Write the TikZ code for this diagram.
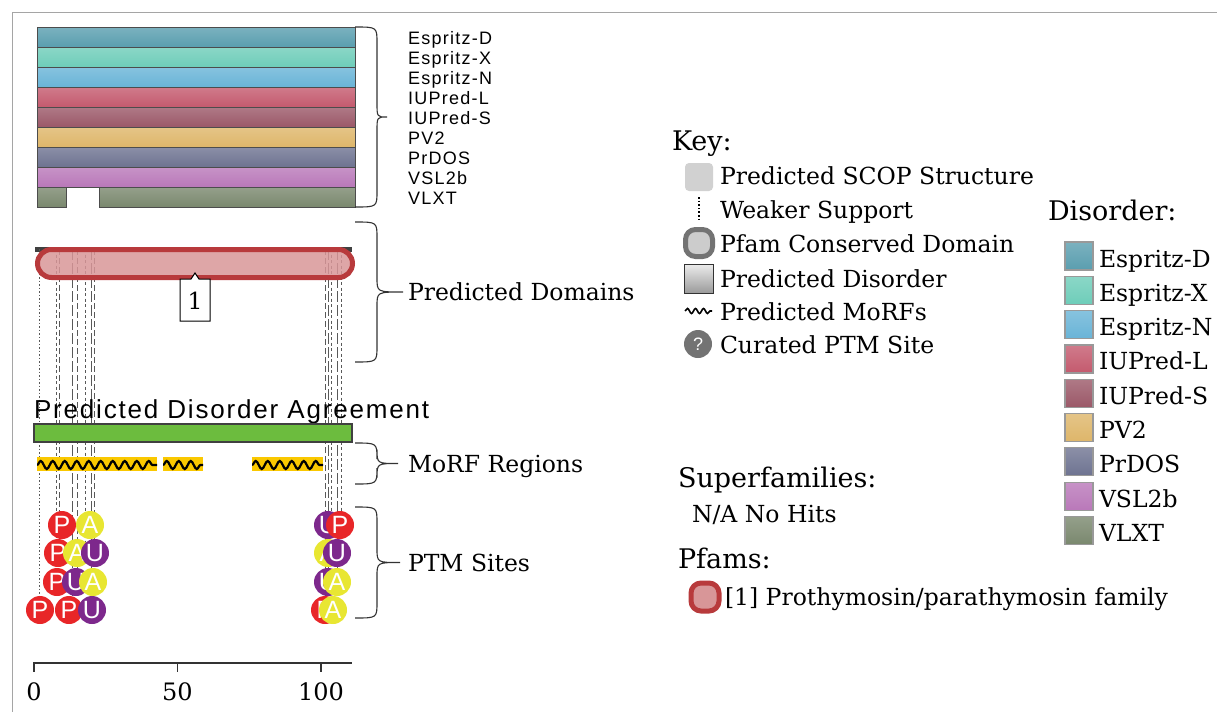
\documentclass[tikz,border=0pt]{standalone}
\usepackage{fontspec}
\setmainfont{DejaVu Serif}
\setsansfont{Liberation Sans}[LetterSpace=7]
\usepackage{tikz}
\usetikzlibrary{decorations.pathmorphing,positioning}
\definecolor{espD}      {RGB}{ 90,158,175}
\definecolor{espX}      {RGB}{110,205,185}
\definecolor{espN}      {RGB}{105,180,215}
\definecolor{iupL}      {RGB}{196, 90,110}
\definecolor{iupS}      {RGB}{155, 88,104}
\definecolor{pvtwo}     {RGB}{222,182,106}
\definecolor{prdos}     {RGB}{110,115,145}
\definecolor{vslb}      {RGB}{185,120,185}
\definecolor{vlxt}      {RGB}{122,136,110}
\definecolor{domred}    {RGB}{184, 58, 60}
\definecolor{dompink}   {RGB}{216,150,152}
\definecolor{agreegreen}{RGB}{108,188, 62}
\definecolor{morfyellow}{RGB}{250,200,  0}
\definecolor{ptmred}    {RGB}{232, 38, 40}
\definecolor{ptmyellow} {RGB}{232,230, 50}
\definecolor{ptmpurple} {RGB}{125, 40,140}
\definecolor{framegray} {RGB}{165,165,165}

% curly brace to the right of the tracks: top y, bottom y, tip x
\newcommand{\sidebrace}[3]{%
  \pgfmathsetmacro{\bmid}{(#1+#2)/2}%
  \draw[bracepen] (355,#1) .. controls (377,#1) .. (377,{#1+16})
    -- (377,{\bmid-14}) .. controls (377,\bmid) .. (#3,\bmid)
    .. controls (377,\bmid) .. (377,{\bmid+14})
    -- (377,{#2-16}) .. controls (377,#2) .. (355,#2);}

\begin{document}
\begin{tikzpicture}[
  x=1pt, y=-1pt,
  every node/.style={inner sep=0pt, outer sep=0pt},
  lbl/.style={font=\fontsize{23.5}{28}\selectfont, anchor=base west},
  hdr/.style={font=\fontsize{27}{32}\selectfont, anchor=base west},
  tracklbl/.style={font=\sffamily\fontsize{18}{20}\selectfont, anchor=base west},
  track/.style={draw=black!70, line width=0.8pt},
  swatch/.style={draw=black!40, line width=1.2pt, minimum size=28pt},
  ptm/.style={circle, minimum size=28pt, text=white, font=\sffamily\fontsize{25}{25}\selectfont},
  vline/.style={black!65, line width=0.8pt},
  dsa/.style={dash pattern=on 1.5pt off 2pt},
  dsb/.style={dash pattern=on 3pt off 2.5pt},
  dsc/.style={dash pattern=on 6pt off 3pt},
  dsd/.style={dash pattern=on 11pt off 3pt},
  bracepen/.style={black!80, line width=1.1pt},
  morf/.style={black, line width=2.2pt, decorate, decoration={snake, segment length=12pt, amplitude=4pt}}
]
  \useasboundingbox (0,0) rectangle (1217,712);
  \draw[framegray, line width=1.5pt] (1217,12.5) -- (12.5,12.5) -- (12.5,712);

  % Disorder tracks
  \foreach \c [count=\i from 0] in {espD,espX,espN,iupL,iupS,pvtwo,prdos,vslb}
    \draw[track, top color=\c!80!white, bottom color=\c] (37,{27+20*\i}) rectangle (355,{47+20*\i});
  \draw[track, top color=vlxt!80!white, bottom color=vlxt] (37,187) rectangle (66,207);
  \draw[track, top color=vlxt!80!white, bottom color=vlxt] (99,187) rectangle (355,207);
  \foreach \t [count=\i from 0] in {Espritz-D,Espritz-X,Espritz-N,IUPred-L,IUPred-S,PV2,PrDOS,VSL2b,VLXT}
    \node[tracklbl] (trk\i) at (408,{44+20*\i}) {\t};
  \sidebrace{27}{207}{387}

  % Domains
  \fill[black!75] (35,247) rectangle (352,252);
  \foreach \lx/\ly/\ds in {39/598/dsa, 56/572/dsb, 59/540/dsc, 72/600/dsd, 77/575/dsc,
                           85/560/dsb, 91/600/dsd, 94/540/dsc,
                           325/600/dsc, 328/575/dsd, 331/520/dsb, 337/570/dsd, 341/520/dsb}
    \draw[vline,\ds] (\lx,249) -- (\lx,\ly);
  \draw[line width=5pt, draw=domred, fill=dompink, fill opacity=0.85, rounded corners=14pt]
    (37.5,249.5) rectangle (352.5,277.5);
  \draw[fill=white, line width=1pt] (180,279) -- (191,279) -- (195,273) -- (199,279)
    -- (210,279) -- (210,321) -- (180,321) -- cycle;
  \node[font=\fontsize{23.5}{28}\selectfont] (dom1) at (195,301) {1};
  \sidebrace{222}{362}{403}
  \node[lbl] (domlbl) at (408,300) {Predicted Domains};

  % Agreement
  \node[font=\sffamily\fontsize{26}{28}\selectfont, anchor=base west] (agree) at (34,418) {Predicted Disorder Agreement};
  \draw[line width=1.5pt, draw=black!75, fill=agreegreen] (34,424) rectangle (352,442);

  % MoRFs
  \foreach \ma/\mb in {37/157, 163/203, 252/323} {
    \fill[morfyellow] (\ma,457) rectangle (\mb,471);
    \begin{scope}
      \clip (\ma,455) rectangle (\mb,473);
      \draw[morf] (\ma,465) -- (\mb,465);
    \end{scope}
  }
  \sidebrace{443}{484}{398}
  \node[lbl] (morflbl) at (408,472) {MoRF Regions};

  % PTM sites
  \foreach \px/\py/\pc/\pl [count=\k] in {
      62/525/ptmred/P, 90/525/ptmyellow/A, 328/525/ptmpurple/U, 340/525/ptmred/P,
      58/553/ptmred/P, 77/553/ptmyellow/A, 95/553/ptmpurple/U, 328/553/ptmyellow/A, 337/553/ptmpurple/U,
      57/582/ptmred/P, 76/582/ptmpurple/U, 93/582/ptmyellow/A, 328/582/ptmpurple/U, 337/582/ptmyellow/A,
      40/610/ptmred/P, 69/610/ptmred/P, 92/610/ptmpurple/U, 325/610/ptmred/P, 333/610/ptmyellow/A}
    \node[ptm, fill=\pc] (ptm\k) at (\px,\py) {\pl};
  \sidebrace{507}{618}{400}
  \node[lbl] (ptmlbl) at (408,571) {PTM Sites};

  % Axis
  \draw[black!80, line width=2pt] (33,663) -- (352,663);
  \foreach \v in {0,50,100} {
    \draw[black!80, line width=1.5pt] ({34+2.87*\v},663) -- ({34+2.87*\v},672);
    \node[font=\fontsize{24}{28}\selectfont] (tk\v) at ({34+2.87*\v},692) {\v};
  }

  % Key
  \node[hdr] (keyhd) at (672,150) {Key:};
  \node[fill=black!18, rounded corners=4pt, minimum size=28pt] (kscop) at (699,177) {};
  \node[lbl] (kscoplbl) at (720,184) {Predicted SCOP Structure};
  \draw[black, line width=1.6pt, dash pattern=on 1.6pt off 2pt] (699,197) -- (699,221);
  \node[lbl] (kweaklbl) at (720,218) {Weaker Support};
  \node[fill=black!20, draw=black!55, line width=5pt, rounded corners=10pt, minimum size=27pt] (kpfam) at (699,243) {};
  \node[lbl] (kpfamlbl) at (720,252) {Pfam Conserved Domain};
  \node[draw=black!80, line width=1.3pt, top color=black!8, bottom color=black!40, minimum size=29pt] (kdis) at (699,279) {};
  \node[lbl] (kdislbl) at (720,287) {Predicted Disorder};
  \draw[morf, line width=1.6pt, decoration={snake, segment length=8pt, amplitude=2.5pt}] (685,311) -- (712,311);
  \node[lbl] (kmorflbl) at (720,320) {Predicted MoRFs};
  \node[circle, fill=black!55, minimum size=28pt, text=white, font=\sffamily\fontsize{18}{18}\selectfont] (kptm) at (698,344) {?};
  \node[lbl] (kptmlbl) at (720,353) {Curated PTM Site};

  % Disorder legend
  \node[hdr] (dishd) at (1048,220) {Disorder:};
  \foreach \c/\t [count=\i from 0] in {espD/Espritz-D, espX/Espritz-X, espN/Espritz-N, iupL/IUPred-L,
      iupS/IUPred-S, pvtwo/PV2, prdos/PrDOS, vslb/VSL2b, vlxt/VLXT} {
    \node[swatch, top color=\c!80!white, bottom color=\c] (sw\i) at (1079,{256+34.3*\i}) {};
    \node[lbl] (swl\i) at (1099,{267+34.3*\i}) {\t};
  }

  % Superfamilies and Pfams
  \node[hdr] (suphd) at (678,487) {Superfamilies:};
  \node[lbl] (supnone) at (692,522) {N/A No Hits};
  \node[hdr] (pfamhd) at (678,568) {Pfams:};
  \node[fill=dompink, draw=domred, line width=5pt, rounded corners=10pt, minimum size=28pt] (pfam1) at (705,597) {};
  \node[lbl] (pfam1lbl) at (725,605) {[1] Prothymosin/parathymosin family};
\end{tikzpicture}
\end{document}
